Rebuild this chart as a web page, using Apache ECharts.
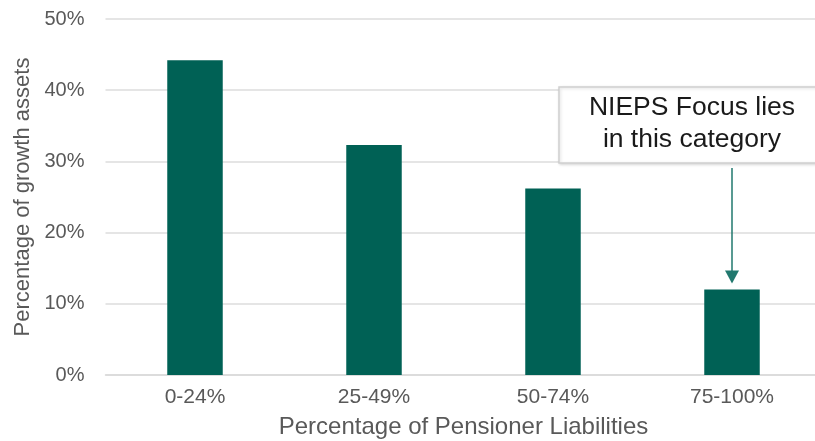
<!DOCTYPE html>
<html>
<head>
<meta charset="utf-8">
<script src="https://cdn.jsdelivr.net/npm/echarts@6/dist/echarts.min.js"></script>
<style>
html,body{margin:0;padding:0;background:#fff;}
#chart{width:815px;height:441px;}
</style>
</head>
<body>
<div id="chart"></div>
<script>
var categories = ['0-24%', '25-49%', '50-74%', '75-100%'];
var growthAssets = [44.2, 32.3, 26.2, 12.0];
var yTicks = [0, 10, 20, 30, 40, 50];
var annotationLines = ['NIEPS Focus lies', 'in this category'];
var highlightIndex = 3;

var chart = echarts.init(document.getElementById('chart'));
var font = '"Liberation Sans", Arial, sans-serif';
var option = {
  animation: false,
  grid: { left: 105.5, right: -6.5, top: 19, bottom: 66, outerBoundsMode: 'none', containLabel: false },
  xAxis: {
    type: 'category',
    data: categories,
    axisLine: { show: true, lineStyle: { color: '#d9d9d9', width: 1.5 } },
    axisTick: { show: false },
    axisLabel: { color: '#595959', fontSize: 21, fontFamily: font, margin: 12 },
    name: 'Percentage of Pensioner Liabilities',
    nameLocation: 'middle',
    nameGap: 40,
    nameTextStyle: { color: '#595959', fontSize: 24, fontFamily: font }
  },
  yAxis: {
    type: 'value',
    min: yTicks[0],
    max: yTicks[yTicks.length - 1],
    interval: 10,
    axisLine: { show: false },
    axisTick: { show: false },
    splitLine: { lineStyle: { color: '#dcdcdc', width: 1.5 } },
    axisLabel: { color: '#595959', fontSize: 20, fontFamily: font, margin: 21, formatter: '{value}%' },
    name: 'Percentage of growth assets',
    nameLocation: 'middle',
    nameGap: 70,
    nameTextStyle: { color: '#595959', fontSize: 22, fontFamily: font }
  },
  series: [{
    type: 'bar',
    data: growthAssets,
    barWidth: '31%',
    itemStyle: { color: '#006155' }
  }]
};
chart.setOption(option);

var barTop = chart.convertToPixel({ seriesIndex: 0 }, [highlightIndex, growthAssets[highlightIndex]]);
var ax = barTop[0];
var tipY = barTop[1] - 6;
var startY = 168;
chart.setOption({
  graphic: [
    {
      type: 'rect',
      shape: { x: 559, y: 87, width: 290, height: 76 },
      style: { fill: '#fff', stroke: '#cfcfcf', lineWidth: 1.5, shadowBlur: 3, shadowColor: 'rgba(0,0,0,0.15)', shadowOffsetX: 1, shadowOffsetY: 1 },
      z: 10
    },
    {
      type: 'text',
      x: 692, y: 108,
      style: { text: annotationLines[0], fill: '#1a1a1a', font: '26.5px ' + font, align: 'center', verticalAlign: 'middle' },
      z: 11
    },
    {
      type: 'text',
      x: 692, y: 140,
      style: { text: annotationLines[1], fill: '#1a1a1a', font: '26.5px ' + font, align: 'center', verticalAlign: 'middle' },
      z: 11
    },
    {
      type: 'line',
      shape: { x1: ax, y1: startY, x2: ax, y2: tipY - 11 },
      style: { stroke: '#21786e', lineWidth: 1.5 },
      z: 11
    },
    {
      type: 'polygon',
      shape: { points: [[ax - 7, tipY - 13], [ax + 7, tipY - 13], [ax, tipY]] },
      style: { fill: '#21786e' },
      z: 11
    }
  ]
});
</script>
</body>
</html>
